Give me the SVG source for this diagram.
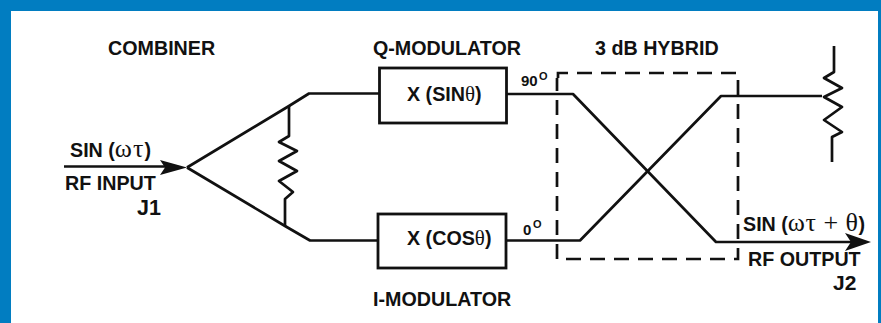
<svg xmlns="http://www.w3.org/2000/svg" width="881" height="323" viewBox="0 0 881 323">
<style>
.l{fill:none;stroke:#111;stroke-width:2.7;stroke-linejoin:round}
.h{fill:#111;stroke:none}
.t{font-family:"Liberation Sans",Arial,sans-serif;font-weight:bold;font-size:19.700px;fill:#111}
.g{font-family:"Liberation Serif",serif;font-weight:normal;font-size:26px}
.d{fill:none;stroke:#111;stroke-width:2.7;stroke-dasharray:15 9}
.b{fill:#fff;stroke:#111;stroke-width:2.8}
</style>
<rect width="881" height="323" fill="#017dc1"/>
<rect x="11" y="11" width="867" height="312" fill="#fff"/>
<g id="connectors">
<path class="l" d="M64 166.500H170"/>
<path class="h" d="M160 160L187 167.500L160 175L165 167.500Z"/>
<path class="l" d="M187 167.500L289 106L309 93.500H380"/>
<path class="l" d="M187 167.500L285 226L310 240.500H378"/>
<path class="l" d="M289 106V136L279 142L297 151L279 161L297 171L279 181L293 192L285 199V226"/>
<path class="l" d="M507 94H573L716 242H738"/>
<path class="l" d="M507 240.500H580L721 96H822"/>
<path class="l" d="M738 242H855"/>
<path class="h" d="M845 233L871 242L845 251L851 242Z"/>
<path class="l" d="M834 46V72L824 78L842 88L824 97L842 107L824 120L842 132L832 137V162"/>
</g>
<g id="hybrid"><path class="d" d="M558 78V73H738V259H557V78"/></g>
<g id="q-mod"><rect class="b" x="379.500" y="68" width="127" height="55"/><text class="t" x="407" y="101">X (SIN<tspan class="g" style="font-size:21px">θ</tspan>)</text></g>
<g id="i-mod"><rect class="b" x="378" y="214" width="128" height="54"/><text class="t" x="407" y="245">X (COS<tspan class="g" style="font-size:21px">θ</tspan>)</text></g>
<g id="labels">
<text class="t" x="108" y="55">COMBINER</text>
<text class="t" x="373" y="55">Q-MODULATOR</text>
<text class="t" x="595" y="55">3 dB HYBRID</text>
<text class="t" x="70" y="157">SIN (<tspan class="g" style="letter-spacing:1px">ωτ</tspan>)</text>
<text class="t" x="65" y="190">RF INPUT</text>
<text class="t" x="137" y="215" style="font-size:21.500px">J1</text>
<text class="t" x="521" y="86" style="font-size:15px">90</text>
<text class="t" x="539" y="80" style="font-size:11px">O</text>
<text class="t" x="523" y="235" style="font-size:15px">0</text>
<text class="t" x="533" y="228" style="font-size:11px">O</text>
<text class="t" x="373" y="306">I-MODULATOR</text>
<text class="t" x="743" y="231">SIN (<tspan class="g" style="letter-spacing:0.500px">ωτ + θ</tspan>)</text>
<text class="t" x="748" y="266">RF OUTPUT</text>
<text class="t" x="833" y="290" style="font-size:21px">J2</text>
</g>
</svg>
